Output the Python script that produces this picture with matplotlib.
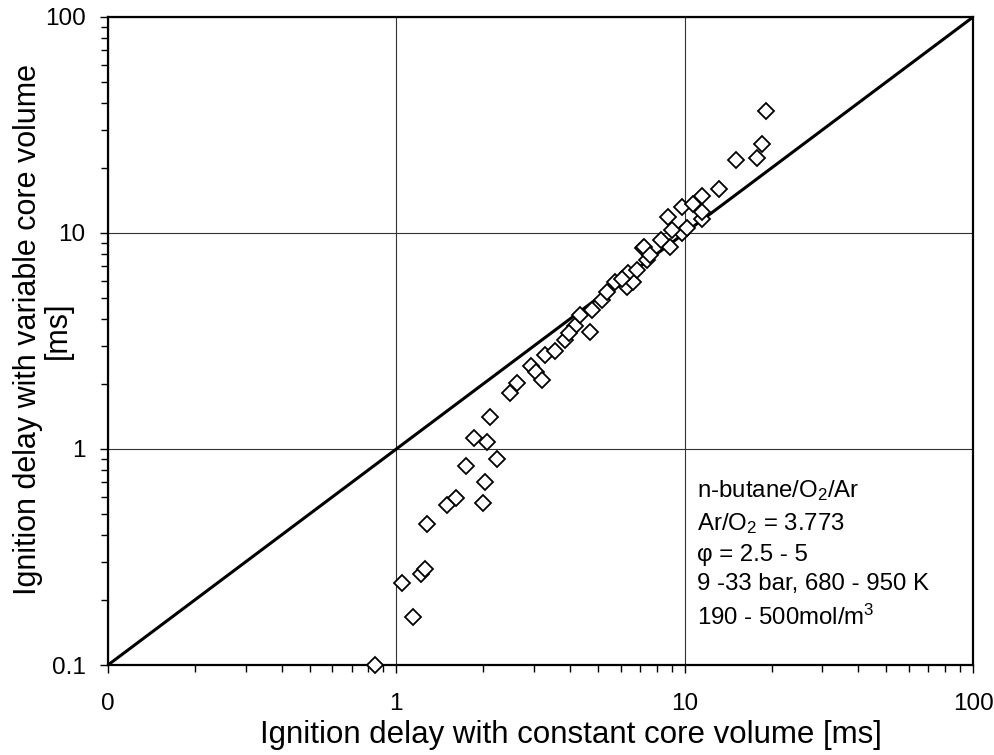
import numpy as np
import matplotlib.pyplot as plt
from matplotlib.ticker import FixedLocator, FixedFormatter, LogLocator, NullFormatter

plt.rcParams['font.family'] = ['Liberation Sans', 'DejaVu Sans']
plt.rcParams['mathtext.default'] = 'regular'

# ignition delays [ms]: constant core volume (x) vs variable core volume (y)
tau_const = [0.84, 1.045, 1.14, 1.22, 1.26, 1.28, 1.50, 1.61, 2.0, 2.03,
             1.74, 1.86, 2.06, 2.23, 2.11, 2.47, 2.62, 2.92, 3.05, 3.19,
             3.27, 3.54, 3.84, 4.16, 4.33, 4.69, 4.76, 5.16, 5.37, 5.72,
             6.29, 6.6, 6.35, 6.82, 7.38, 7.15, 7.2, 8.87, 8.3, 9.8,
             9.0, 8.73, 11.5, 11.5, 9.8, 10.7, 11.5, 13.1, 15.0, 17.8,
             18.6, 19.1, 3.97, 6.05, 7.6, 10.2]
tau_var = [0.1, 0.24, 0.167, 0.264, 0.278, 0.45, 0.55, 0.59, 0.56, 0.70,
           0.83, 1.12, 1.08, 0.90, 1.41, 1.82, 2.02, 2.43, 2.27, 2.08,
           2.72, 2.84, 3.2, 3.71, 4.17, 3.48, 4.4, 4.9, 5.33, 5.9,
           5.62, 5.9, 6.53, 6.74, 7.5, 8.5, 8.6, 8.6, 9.3, 10.0,
           10.3, 11.9, 11.6, 12.5, 13.2, 13.6, 14.8, 16.0, 21.8, 22.2,
           25.8, 36.7, 3.45, 6.1, 7.9, 10.6]

decades = [0.1, 1, 10, 100]
x_ticklabels = ['0', '1', '10', '100']
y_ticklabels = ['0.1', '1', '10', '100']

fig = plt.figure(figsize=(9.95, 7.55), dpi=100)
ax = fig.add_axes([0.1085, 0.1192, 0.8695, 0.8583])

ax.set_xscale('log')
ax.set_yscale('log')
ax.set_xlim(0.1, 100)
ax.set_ylim(0.1, 100)

# y = x reference
ax.plot([0.1, 100], [0.1, 100], color='black', lw=2.2, zorder=2)

ax.plot(tau_const, tau_var, linestyle='none', marker='D', ms=8.5,
        mfc='white', mec='black', mew=1.3, zorder=3, clip_on=False)

ax.xaxis.set_major_locator(FixedLocator(decades))
ax.xaxis.set_major_formatter(FixedFormatter(x_ticklabels))
ax.yaxis.set_major_locator(FixedLocator(decades))
ax.yaxis.set_major_formatter(FixedFormatter(y_ticklabels))
for axis in (ax.xaxis, ax.yaxis):
    axis.set_minor_locator(LogLocator(base=10, subs=np.arange(2, 10)))
    axis.set_minor_formatter(NullFormatter())

ax.tick_params(which='both', direction='out', width=1.0, color='black',
               labelsize=17.5)
ax.tick_params(which='major', length=6)
ax.tick_params(axis='x', which='major', pad=14)
ax.tick_params(axis='y', which='major', pad=10)
ax.tick_params(which='minor', length=5)

ax.grid(True, which='major', color='#333333', lw=0.8)
for s in ax.spines.values():
    s.set_linewidth(1.6)

ax.set_xlabel('Ignition delay with constant core volume [ms]', fontsize=22.5)
ax.xaxis.set_label_coords(0.535, -0.085)

# y label: two centred lines, the unit on its own line
ax.set_ylabel('Ignition delay with variable core volume', fontsize=22)
ax.yaxis.set_label_coords(-0.075, 0.517)
ax.text(-0.058, 0.517, '[ms]', transform=ax.transAxes, fontsize=22,
        rotation=90, ha='center', va='center')

ax.text(0.681, 0.289,
        'n-butane/O$_2$/Ar\n'
        'Ar/O$_2$ = 3.773\n'
        'φ = 2.5 - 5\n'
        '9 -33 bar, 680 - 950 K\n'
        '190 - 500mol/m$^3$',
        transform=ax.transAxes, fontsize=17.3, va='top', ha='left',
        linespacing=1.45)

fig.savefig('out.png', dpi=100)
